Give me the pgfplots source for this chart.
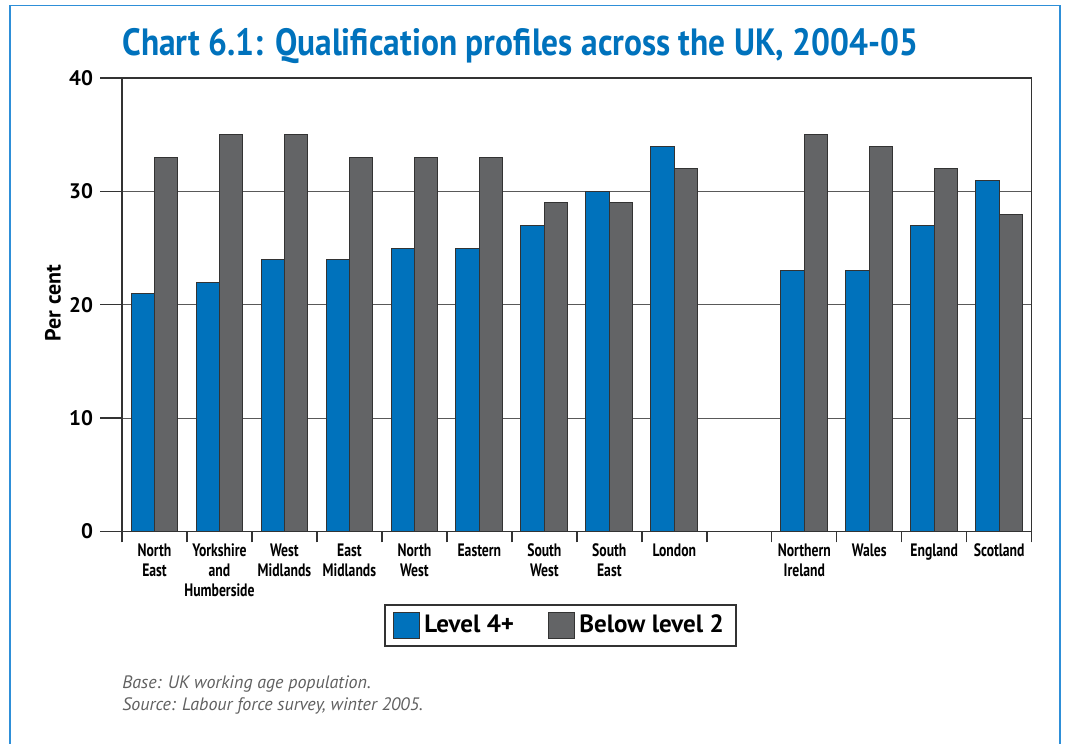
\documentclass[border=0pt]{standalone}
\usepackage{fontspec}
\setmainfont{PT Sans}
\newfontfamily\condfont{PT Sans}[FakeStretch=0.76]
\newfontfamily\titlefont{PT Sans}[FakeStretch=0.88]
\usepackage{pgfplots}
\pgfplotsset{compat=1.18}
\definecolor{ukblue}{HTML}{0072BC}
\definecolor{ukgrey}{HTML}{636466}
\definecolor{framec}{HTML}{2E8FD8}
\definecolor{notegrey}{HTML}{606060}

\begin{document}
\begin{tikzpicture}
\path[use as bounding box] (0,0) rectangle (539pt,372pt);
\draw[framec, line width=0.9pt] (4.8pt,-5pt) |- (530pt,369.2pt) -- (530pt,-5pt);
\node[anchor=base west, font=\titlefont\bfseries\fontsize{19}{22}\selectfont, text=ukblue, inner sep=0pt]
  at (61pt,344pt) {Chart 6.1: Qualification profiles across the UK, 2004-05};
\begin{axis}[
  at={(61pt,106.25pt)}, anchor=south west,
  scale only axis, width=454.85pt, height=226.75pt,
  ybar=0pt, bar width=11.7pt,
  xmin=-0.5, xmax=13.5, ymin=0, ymax=40,
  xtick={0,1,2,3,4,5,6,7,8,10,11,12,13},
  xticklabels={{North\\East},{Yorkshire\\and\\Humberside},{West\\Midlands},{East\\Midlands},
    {North\\West},Eastern,{South\\West},{South\\East},London,
    {Northern\\Ireland},Wales,England,Scotland},
  minor xtick={-0.5,0.5,...,13.5},
  major x tick style={draw=none},
  minor tick length=5.5pt,
  major tick length=11pt,
  tick align=outside,
  tick pos=left,
  ytick={0,10,20,30,40},
  ymajorgrids,
  grid style={draw=black!65, line width=0.6pt},
  axis line style={draw=black!80, line width=0.7pt},
  tick style={draw=black!80, line width=0.7pt},
  /pgf/number format/assume math mode=true,
  xticklabel style={align=center, yshift=8.5pt, font=\condfont\bfseries\fontsize{9}{10}\selectfont},
  yticklabel style={font=\bfseries\fontsize{10.5}{12}\selectfont},
  ylabel={Per cent},
  ylabel style={at={(axis description cs:-0.0758,0.504)}, anchor=center,
    font=\bfseries\fontsize{11}{13}\selectfont},
  legend style={at={(0.482,-0.207)}, anchor=center, legend columns=2,
    draw=black!80, line width=0.8pt, font=\bfseries\fontsize{12.5}{14}\selectfont,
    /tikz/every even column/.append style={column sep=15pt},
    inner xsep=4pt, inner ysep=3pt},
  legend image code/.code={\draw[#1, line width=0.6pt] (0pt,-6.5pt) rectangle (13pt,6.5pt);},
]
\addplot[fill=ukblue, draw=black!80, line width=0.5pt] coordinates {
  (0,21) (1,22) (2,24) (3,24) (4,25) (5,25) (6,27) (7,30) (8,34)
  (10,23) (11,23) (12,27) (13,31)
};
\addlegendentry{Level 4+}
\addplot[fill=ukgrey, draw=black!80, line width=0.5pt] coordinates {
  (0,33) (1,35) (2,35) (3,33) (4,33) (5,33) (6,29) (7,29) (8,32)
  (10,35) (11,34) (12,32) (13,28)
};
\addlegendentry{Below level 2}
\end{axis}
\node[anchor=base west, font=\itshape\fontsize{9}{11}\selectfont, text=notegrey, inner sep=0pt]
  at (61pt,27.5pt) {Base: UK working age population.};
\node[anchor=base west, font=\itshape\fontsize{9}{11}\selectfont, text=notegrey, inner sep=0pt]
  at (61pt,16.5pt) {Source: Labour force survey, winter 2005.};
\end{tikzpicture}
\end{document}
